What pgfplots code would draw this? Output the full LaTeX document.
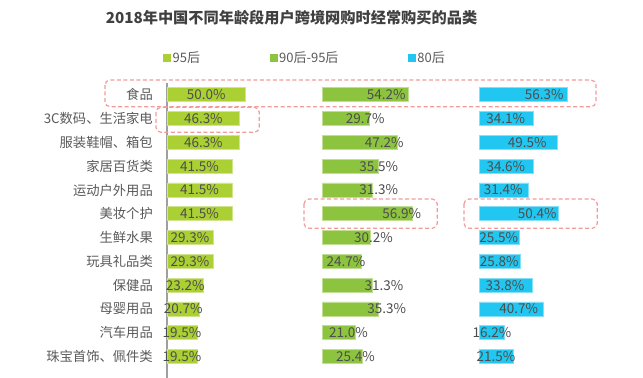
\documentclass[border=0pt]{standalone}
\usepackage{pgfplots}
\pgfplotsset{compat=1.18}
\usepackage{pgfplotstable}
\usepackage{fontspec}
\setmainfont{Noto Sans CJK SC}
\definecolor{cA}{RGB}{171,208,51}
\definecolor{cB}{RGB}{141,196,63}
\definecolor{cC}{RGB}{33,199,240}
\definecolor{txt}{RGB}{89,89,89}
\definecolor{val}{RGB}{77,77,77}
\definecolor{ttl}{RGB}{64,64,64}
\definecolor{boxc}{RGB}{242,155,155}

\pgfplotstableread{
y  a     la     b     lb    c     lc
0  50.0  25.0   54.2  40.5  56.3  41.4
1  46.3  23.15  29.7  27.1  34.1  16.8
2  46.3  23.15  47.2  39.2  49.5  30.5
3  41.5  20.75  35.5  35.7  34.6  16.9
4  41.5  20.75  31.3  35.7  31.4  15.3
5  41.5  20.75  56.9  50.3  50.4  36.9
6  29.3  14.65  30.2  32.4  25.5  12.3
7  29.3  14.65  24.7  14.8  25.8  12.7
8  23.2  11.6   31.3  39.0  33.8  16.3
9  20.7  10.35  35.3  40.8  40.7  25.1
10 19.5  9.6    21.0  16.4  16.2  8.1
11 19.5  9.6    25.4  20.8  21.5  10.6
}\data

\pgfplotsset{
  panel/.style={scale only axis, width=94.2bp, height=295.1bp,
    xmin=0, xmax=60, ymin=-0.5, ymax=11.9, y dir=reverse,
    clip=false, anchor=south west},
  bars/.style={xbar, bar width=14bp, bar shift=0pt, fill=#1, draw=#1!55!white, line width=0.6bp,
    legend image code/.code={\fill[##1, draw=none] (0bp,-4bp) rectangle (8bp,4bp);}},
  vals/.style={draw=none, mark=none, forget plot,
    point meta=\thisrow{#1},
    nodes near coords={\pgfmathprintnumber[fixed,fixed zerofill,precision=1]{\pgfplotspointmeta}\%},
    nodes near coords style={anchor=center, font=\fontsize{13.5bp}{16bp}\selectfont, text=val, inner sep=0pt},
    /pgf/number format/assume math mode=true},
}

\begin{document}
\begin{tikzpicture}
\useasboundingbox (0,0) rectangle (643bp,378bp);

\begin{axis}[panel, at={(167bp,0bp)},
  axis y line=left, axis x line=none,
  axis line style={-, draw=gray!75, line width=1.3bp},
  xtick=\empty,
  ytick={0,...,11},
  yticklabels={食品,3C数码、生活家电,服装鞋帽、箱包,家居百货类,运动户外用品,美妆个护,生鲜水果,玩具礼品类,保健品,母婴用品,汽车用品,珠宝首饰、佩件类},
  major tick length=0pt,
  yticklabel style={font=\fontsize{13.3bp}{16bp}\selectfont, text=txt, inner sep=0pt, xshift=-14bp, anchor=east},
  legend columns=3,
  legend cell align=left,
  legend style={at={(-0.0425,1.0844)}, anchor=west, draw=none, fill=none, inner sep=0pt,
    font=\fontsize{13bp}{15bp}\selectfont, text=txt,
    /tikz/every even column/.append style={column sep=68bp},
    nodes={inner xsep=1.5bp}},
]
\addplot[bars=cA] table[x=a, y=y] {\data};
\addlegendentry{95后}
\addlegendimage{bars=cB}
\addlegendentry{90后-95后}
\addlegendimage{bars=cC}
\addlegendentry{80后}
\addplot[vals=a] table[x=la, y=y] {\data};
\end{axis}

\begin{axis}[panel, at={(322.7bp,0bp)}, hide axis]
\addplot[bars=cB] table[x=b, y=y] {\data};
\addplot[vals=b] table[x=lb, y=y] {\data};
\end{axis}

\begin{axis}[panel, at={(479.3bp,0bp)}, hide axis]
\addplot[bars=cC] table[x=c, y=y] {\data};
\addplot[vals=c] table[x=lc, y=y] {\data};
\end{axis}

\node[font=\fontsize{15.2bp}{18bp}\selectfont\bfseries, text=ttl] at (291.5bp,360bp) {2018年中国不同年龄段用户跨境网购时经常购买的品类};

\begin{scope}[draw=boxc, line width=1.2bp, dash pattern=on 4bp off 2.5bp, rounded corners=5bp]
\draw (105bp,298bp) rectangle (596bp,271.3bp);
\draw (156bp,270.7bp) rectangle (259.3bp,245.7bp);
\draw (304bp,179bp) rectangle (437.3bp,149.7bp);
\draw (464bp,179bp) rectangle (597.3bp,149.7bp);
\end{scope}
\end{tikzpicture}
\end{document}
